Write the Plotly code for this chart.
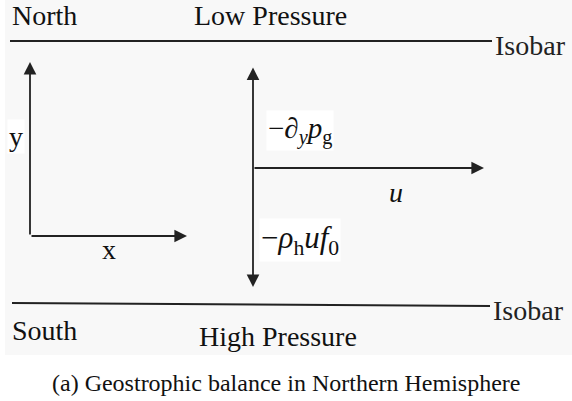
import plotly.graph_objects as go

# ─── Diagram content ──────────────────────────────────────────────────────────

# isobars: (x0, y0, x1, y1) in page pixels
isobars = [(10, 41, 492, 41), (12, 303, 490, 306)]
isobar_label = "Isobar"

# arrows: (tail_x, tail_y, head_x, head_y, both_ends)
arrows = [
    (30, 236, 30, 62, False),      # y axis
    (30, 236, 187, 236, False),    # x axis
    (253, 66, 253, 287, True),     # force balance (up / down)
    (253, 168, 484, 168, False),   # wind u
]

# labels: (text, x, y, anchor, size, white_box)
labels = [
    ("North", 10, 15, "left", 28, False),
    ("Low Pressure", 270, 15, "center", 28, False),
    ("South", 10, 330, "left", 28, False),
    ("High Pressure", 278, 336, "center", 28, False),
    ("y", 7, 136, "left", 28, True),
    ("x", 100, 249, "left", 28, False),
    ("−∂<sub><i>y</i></sub><i>p</i><sub>g</sub>", 266, 130, "left", 29, True),
    ("<i>u</i>", 396, 192, "center", 28, False),
    ("−<i>ρ</i><sub>h</sub><i>uf</i><sub>0</sub>", 259, 240, "left", 31, True),
]
caption = "(a) Geostrophic balance in Northern Hemisphere"

INK = "#222222"
FONT = "Liberation Serif"

fig = go.Figure()

# light grey panel behind the drawing
fig.add_shape(type="rect", x0=5, x1=572, y0=0, y1=355, fillcolor="#f8f8f8",
              line_width=0, layer="below")

for x0, y0, x1, y1 in isobars:
    fig.add_trace(go.Scatter(x=[x0, x1], y=[y0, y1], mode="lines",
                             line=dict(color=INK, width=2), hoverinfo="skip"))
    fig.add_annotation(x=x1 + 1, y=y1 + 4, text=isobar_label, showarrow=False,
                       xanchor="left", yanchor="middle",
                       font=dict(family=FONT, size=28, color=INK))

for tx, ty, hx, hy, both in arrows:
    fig.add_annotation(x=hx, y=hy, ax=tx, ay=ty, xref="x", yref="y", axref="x", ayref="y",
                       text="", showarrow=True, arrowhead=2, startarrowhead=2,
                       arrowside="end+start" if both else "end",
                       arrowsize=1.4, startarrowsize=1.4, arrowwidth=1.8,
                       arrowcolor=INK, standoff=0, startstandoff=0)

for text, x, y, anchor, size, box in labels:
    fig.add_annotation(x=x, y=y, text=text, showarrow=False, xanchor=anchor,
                       yanchor="middle", bgcolor="white" if box else "rgba(0,0,0,0)",
                       font=dict(family=FONT, size=size, color="#111111"))

fig.add_annotation(x=286, y=383, text=caption, showarrow=False, xanchor="center",
                   yanchor="middle", font=dict(family=FONT, size=24, color="#111111"))

fig.update_layout(
    width=572, height=401, margin=dict(t=0, b=0, l=0, r=0),
    paper_bgcolor="white", plot_bgcolor="white", showlegend=False,
    xaxis=dict(range=[0, 572], visible=False, fixedrange=True),
    yaxis=dict(range=[401, 0], visible=False, fixedrange=True),
)

fig.write_html("out.html", config={"displayModeBar": False},
               post_script="document.body.style.margin='0';document.body.style.overflow='hidden';")
